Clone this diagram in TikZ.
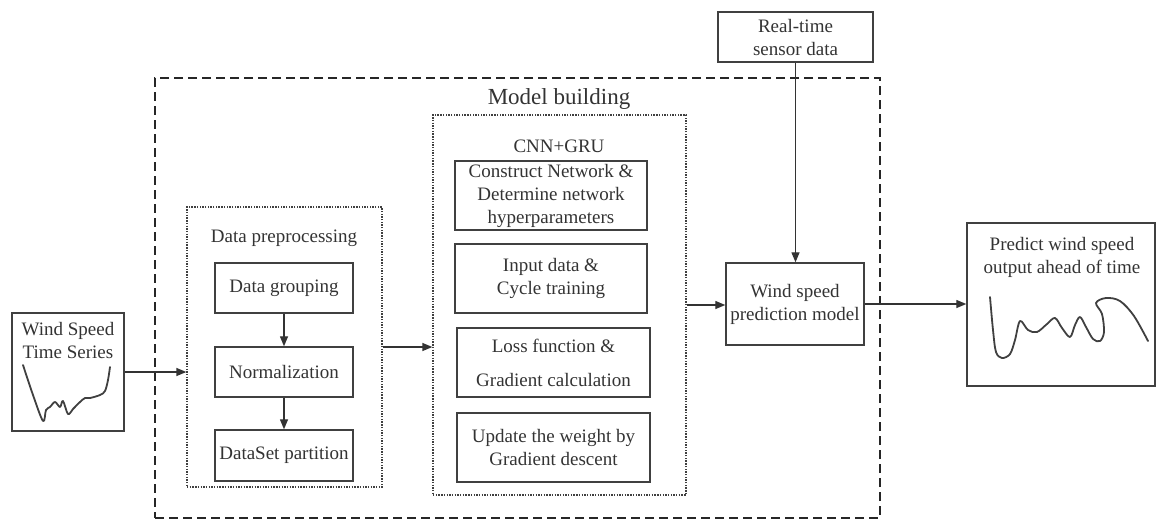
\documentclass[tikz,border=0pt]{standalone}
\usepackage{fontspec}
\setmainfont{Liberation Serif}
\usetikzlibrary{arrows.meta}
\begin{document}
\begin{tikzpicture}[x=1pt,y=-1pt,
  every node/.style={font=\fontsize{19}{23}\selectfont, text=black!80},
  box/.style={draw=black!75, line width=1.4pt, inner sep=0pt, align=center},
  dotbox/.style={draw=black!75, line width=1.3pt, dash pattern=on 1.4pt off 1.3pt, inner sep=0pt},
  outerbox/.style={draw=black!85, line width=2.4pt, dash pattern=on 9pt off 5pt, inner sep=0pt},
  label/.style={inner sep=0pt, align=center},
  arr/.style={draw=black!80, line width=1.3pt, -{Triangle[length=10pt,width=8pt]}},
  curve/.style={draw=black!75, line width=1.8pt, line cap=round, line join=round}]
\useasboundingbox (0,0) rectangle (1157,523);

% model-building frame
\node[outerbox, minimum width=725pt, minimum height=440pt] (mb) at (517.5,298) {};
\node[label, font=\fontsize{23}{27}\selectfont] (mbl) at (559,99) {Model building};

% input series
\node[box, minimum width=112pt, minimum height=118pt] (ts) at (68,372) {};
\node[label] (tsl) at (68,340) {Wind Speed\\Time Series};
\draw[curve] plot[smooth, tension=0.55] coordinates {(23,365) (33,395) (43,421) (46,410) (50,407) (55,402) (60,407) (63,401) (68,414) (73,409) (80,402) (85,398) (90,398) (100,395) (105,391) (108,380) (110,367)};

% data preprocessing
\node[dotbox, minimum width=195pt, minimum height=280pt] (pre) at (284.5,347) {};
\node[label] (prel) at (284,238) {Data preprocessing};
\node[box, minimum width=138pt, minimum height=50pt] (dg) at (284,288) {Data grouping};
\node[box, minimum width=138pt, minimum height=50pt] (nm) at (284,372) {Normalization};
\node[box, minimum width=138pt, minimum height=51pt] (dp) at (284,455.5) {DataSet partition};

% CNN+GRU
\node[dotbox, minimum width=253pt, minimum height=380pt] (cnn) at (559.5,305) {};
\node[label] (cnnl) at (559,146) {CNN+GRU};
\node[box, minimum width=192pt, minimum height=69pt] (c1) at (551,195.5) {Construct Network \&\\Determine network\\hyperparameters};
\node[box, minimum width=192pt, minimum height=69pt] (c2) at (551,278.5) {Input data \&\\Cycle training};
\node[box, minimum width=193pt, minimum height=69pt] (c3) at (553.5,362.5) {Loss function \&\\[11pt]Gradient calculation};
\node[box, minimum width=193pt, minimum height=69pt] (c4) at (553.5,447.5) {Update the weight by\\Gradient descent};

% prediction model and sensor input
\node[box, minimum width=155pt, minimum height=50pt] (sensor) at (795.5,37) {Real-time\\sensor data};
\node[box, minimum width=138pt, minimum height=82pt] (model) at (795,304) {Wind speed\\prediction model};

% output
\node[box, minimum width=188pt, minimum height=163pt] (out) at (1061,304.5) {};
\node[label] (outl) at (1062,257.5) {Predict wind speed\\output ahead of time};
\draw[curve] plot[smooth, tension=0.55] coordinates {(990,297) (993,330) (996,352) (1002,358) (1010,354) (1015,340) (1020,321) (1028,330) (1037,332) (1047,324) (1055,318) (1062,328) (1070,337) (1075,325) (1080,317) (1086,327) (1093,339) (1100,341) (1104,332) (1102,314) (1096,303) (1106,298) (1120,301) (1134,316) (1148,341)};

% connectors
\draw[arr] (ts.east) -- (ts.east -| pre.west);
\draw[arr] (dg) -- (nm);
\draw[arr] (nm) -- (dp);
\draw[arr] (pre.east) -- (pre.east -| cnn.west);
\draw[arr] (cnn.east) -- (cnn.east -| model.west);
\draw[arr] (sensor.south) -- (sensor.south |- model.north);
\draw[arr] (model.east) -- (model.east -| out.west);
\end{tikzpicture}
\end{document}
